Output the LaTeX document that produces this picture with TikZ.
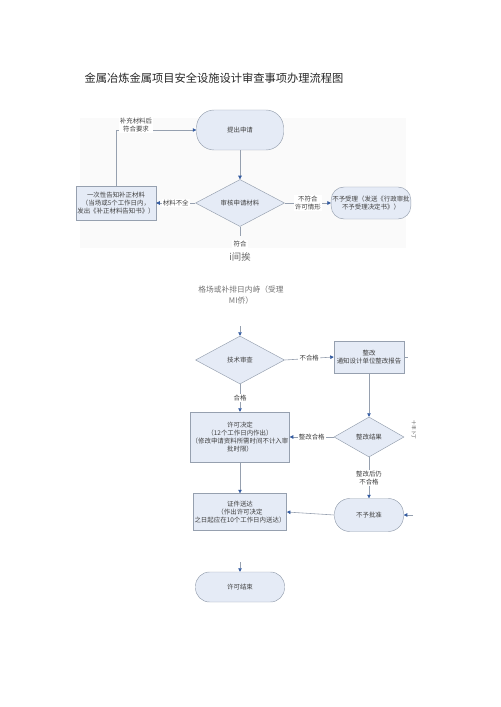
\documentclass[tikz,border=0pt]{standalone}
\usepackage{fontspec}
\setmainfont{Noto Sans CJK SC}
\usetikzlibrary{arrows.meta,shapes.geometric}
\definecolor{boxfill}{RGB}{229,235,246}
\definecolor{boxline}{RGB}{150,160,175}
\definecolor{tipblue}{RGB}{50,90,160}
\tikzset{%
  block/.style    = {shape=rectangle, draw=boxline, fill=boxfill,%
                     align=center, inner sep=1pt, text=black!75,%
                     font=\fontsize{5.5}{7}\selectfont},%
  term/.style     = {block, rounded corners=15pt},%
  decide/.style   = {block, shape=diamond, inner sep=0pt},%
  tag/.style      = {fill=white, inner sep=1pt, align=center, text=black!75,%
                     font=\fontsize{5.5}{7}\selectfont},%
  link/.style     = {draw=boxline, line width=0.5pt},%
  flow/.style     = {link, -{Triangle[length=3pt,width=3pt,color=tipblue]}}%
}
\begin{document}
\begin{tikzpicture}
              [x=0.03cm, y=-0.03cm]
              \useasboundingbox (0,0) rectangle (500,707);
              \fill[black!2] (80,118) rectangle (406,248);
              \node[font=\fontsize{9.6}{11}\selectfont, text=black!85] (title) at (214,78)
                {金属冶炼金属项目安全设施设计审查事项办理流程图};
              % upper part
              \node[term, minimum width=87*0.03cm, minimum height=40*0.03cm] (apply) at (240,130) {提出申请};
              \node[decide, minimum width=89*0.03cm, minimum height=47*0.03cm] (check) at (240,203) {审核申请材料};
              \node[block, minimum width=80*0.03cm, minimum height=34*0.03cm] (notify) at (116,203)
                {一次性告知补正材料\\（当场或5个工作日内，\\发出《补正材料告知书》）};
              \node[term, rounded corners=11pt, minimum width=68*0.03cm, minimum height=32*0.03cm] (refuse) at (371,203)
                {不予受理（发送《行政审批\\不予受理决定书》）};
              \draw[flow] (apply) -- (check);
              \draw[flow] (check.west) -- node[tag] {材料不全} (notify.east);
              \draw[flow] (check.east) -- node[tag] {不符合\\许可情形} (refuse.west);
              \draw[flow] (notify.north) |- (apply.west);
              \node[tag] (again) at (136,125) {补充材料后\\符合要求};
              \coordinate (okend) at (240,236);
              \draw[link] (check.south) -- (okend);
              \node[tag] (ok) at (240,244) {符合};
              \node[font=\fontsize{8}{9}\selectfont, text=black!60] (odd1) at (240,257) {i间挨};
              \node[font=\fontsize{6.6}{9}\selectfont, text=black!55, align=center] (odd2) at (241,295)
                {格场或补排日内峙（受理\\MI侨）};
              % lower part
              \node[decide, minimum width=89*0.03cm, minimum height=48*0.03cm] (tech) at (240,360) {技术审查};
              \node[block, minimum width=70*0.03cm, minimum height=32*0.03cm] (fix) at (369,357)
                {整改\\通知设计单位整改报告};
              \node[decide, minimum width=70*0.03cm, minimum height=40*0.03cm] (result) at (369,437) {整改结果};
              \node[block, minimum width=89*0.03cm, minimum height=50*0.03cm] (permit) at (240,437)
                {许可决定\\（12个工作日内作出）\\（修改申请资料所需时间不计入审\\批时限）};
              \node[term, rounded corners=13pt, minimum width=69*0.03cm, minimum height=33*0.03cm] (deny) at (369,515) {不予批准};
              \node[block, minimum width=89*0.03cm, minimum height=37*0.03cm] (deliver) at (240,512)
                {证件送达\\（作出许可决定\\之日起应在10个工作日内送达）};
              \node[term, rounded corners=12pt, minimum width=89*0.03cm, minimum height=30*0.03cm] (finish) at (240,587) {许可结束};
              \node[rotate=-90, font=\fontsize{4}{5}\selectfont, text=black!70] (odd3) at (414,430) {十丰卜丁};
              \coordinate (techin) at (240,326);
              \coordinate (fixout) at (408,357);
              \coordinate (denyin) at (413,515);
              \coordinate (finishin) at (240,562);
              \draw[flow] (techin) -- (tech.north);
              \draw[flow] (tech.east) -- node[tag] {不合格} (fix.west);
              \draw[link] (fix.east) -- (fixout);
              \draw[flow] (fix) -- (result);
              \draw[flow] (tech.south) -- node[tag] {合格} (permit.north);
              \draw[flow] (result.west) -- node[tag] {整改合格} (permit.east);
              \draw[flow] (result.south) -- node[tag] {整改后仍\\不合格} (deny.north);
              \draw[flow] (denyin) -- (deny.east);
              \draw[flow] (deny.west) -- (deliver.east);
              \draw[flow] (permit) -- (deliver);
              \draw[flow] (finishin) -- (finish.north);
        \end{tikzpicture}
\end{document}
